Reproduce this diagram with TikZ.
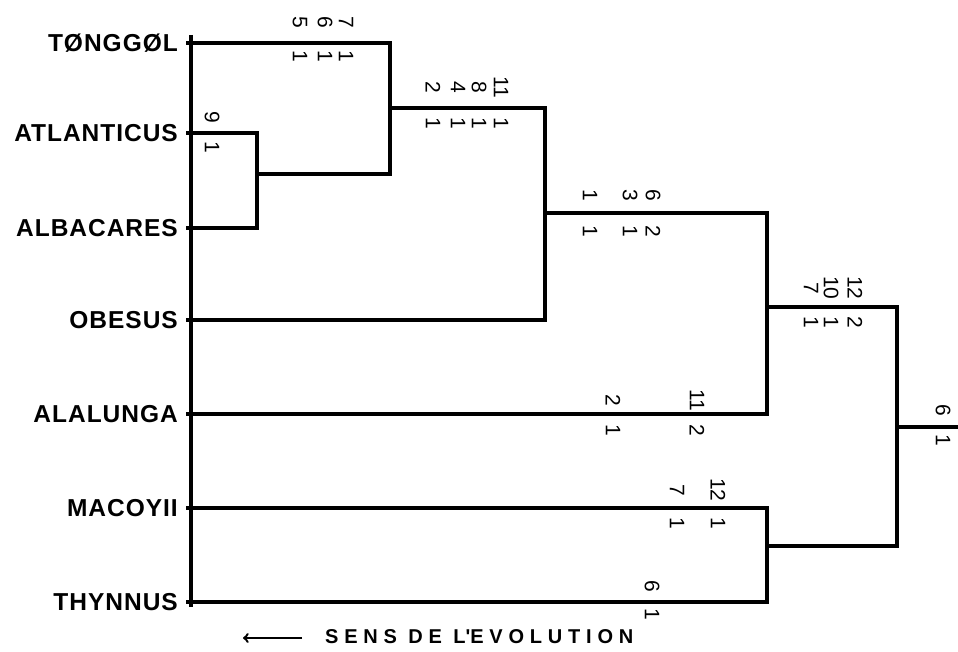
\documentclass[tikz,border=0pt]{standalone}
\usepackage{fontspec}
\setmainfont{Liberation Sans}
\newfontfamily\evofont[LetterSpace=29]{Liberation Sans}
\newfontfamily\taxfont[LetterSpace=4]{Liberation Sans}
\usetikzlibrary{arrows}

\begin{document}
\begin{tikzpicture}[x=1pt, y=-1pt,
  taxon/.style={
    % The species name
    anchor=east,
    inner sep=0pt,
    font=\taxfont\bfseries\fontsize{24.5}{24.5}\selectfont},
  code/.style={
    % character number (above) and state (below), turned a quarter
    rotate=-90,
    inner sep=0pt,
    font=\fontsize{21}{21}\selectfont},
  branch/.style={line width=3.2pt},
  >=to, black]

  \useasboundingbox (0,0) rectangle (958,652);

  % species
  \node (tonggol) [taxon] at (178,43) {TØNGGØL};
  \node (atlanticus) [taxon] at (178,133) {ATLANTICUS};
  \node (albacares) [taxon] at (178,228) {ALBACARES};
  \node (obesus) [taxon] at (178,320) {OBESUS};
  \node (alalunga) [taxon] at (178,414) {ALALUNGA};
  \node (macoyii) [taxon] at (178,508) {MACOYII};
  \node (thynnus) [taxon] at (178,602) {THYNNUS};

  % leaves and axis
  \foreach \name/\y in {tonggol/43, atlanticus/133, albacares/228, obesus/320,
                        alalunga/414, macoyii/508, thynnus/602}
    \coordinate (l-\name) at (186,\y);
  \coordinate (axtop) at (191,35);
  \coordinate (axbot) at (191,607);
  \draw[branch] (axtop) -- (axbot);

  % branching points
  \coordinate (n1) at (257,174);
  \coordinate (n2) at (390,108);
  \coordinate (n3) at (545,213);
  \coordinate (n4) at (767,307);
  \coordinate (n5) at (767,546);
  \coordinate (root) at (897,427);
  \coordinate (rootend) at (958,427);

  \draw[branch] (l-atlanticus) -| (n1);
  \draw[branch] (l-albacares) -| (n1);
  \draw[branch] (l-tonggol) -| (n2);
  \draw[branch] (n1) -| (n2);
  \draw[branch] (n2) -| (n3);
  \draw[branch] (l-obesus) -| (n3);
  \draw[branch] (n3) -| (n4);
  \draw[branch] (l-alalunga) -| (n4);
  \draw[branch] (l-macoyii) -| (n5);
  \draw[branch] (l-thynnus) -| (n5);
  \draw[branch] (n4) -| (root);
  \draw[branch] (n5) -| (root);
  \draw[branch] (root) -- (rootend);

  % characters on the branches
  \foreach \x/\up/\dn [count=\i] in {300/5/1, 325/6/1, 346/7/1}{
    \node (tg-up-\i) [code] at (\x,22) {\up};
    \node (tg-dn-\i) [code] at (\x,56) {\dn};
  }
  \node (at-up) [code] at (212,117) {9};
  \node (at-dn) [code] at (212,147) {1};
  \foreach \x/\up/\dn [count=\i] in {433/2/1, 458/4/1, 479/8/1, 501/11/1}{
    \node (b2-up-\i) [code] at (\x,87) {\up};
    \node (b2-dn-\i) [code] at (\x,123) {\dn};
  }
  \foreach \x/\up/\dn [count=\i] in {590/1/1, 630/3/1, 653/6/2}{
    \node (b3-up-\i) [code] at (\x,195) {\up};
    \node (b3-dn-\i) [code] at (\x,231) {\dn};
  }
  \foreach \x/\up/\dn [count=\i] in {811/7/1, 831/10/1, 855/12/2}{
    \node (b4-up-\i) [code] at (\x,288) {\up};
    \node (b4-dn-\i) [code] at (\x,322) {\dn};
  }
  \foreach \x/\up/\dn [count=\i] in {613/2/1, 697/11/2}{
    \node (al-up-\i) [code] at (\x,400) {\up};
    \node (al-dn-\i) [code] at (\x,430) {\dn};
  }
  \foreach \x/\up/\dn [count=\i] in {677/7/1, 718/12/1}{
    \node (mc-up-\i) [code] at (\x,490) {\up};
    \node (mc-dn-\i) [code] at (\x,523) {\dn};
  }
  \node (th-up) [code] at (652,586) {6};
  \node (th-dn) [code] at (652,614) {1};
  \node (rt-up) [code] at (943,410) {6};
  \node (rt-dn) [code] at (943,440) {1};

  % direction of evolution
  \node (evo) [anchor=west, inner sep=0pt,
    font=\evofont\bfseries\fontsize{20}{20}\selectfont] at (325,637)
    {SENS DE L\textquotesingle EVOLUTION};
  \coordinate (evotail) at (302,638);
  \coordinate (evotip) at (243,638);
  \draw[->, line width=2.4pt] (evotail) -- (evotip);
\end{tikzpicture}
\end{document}
